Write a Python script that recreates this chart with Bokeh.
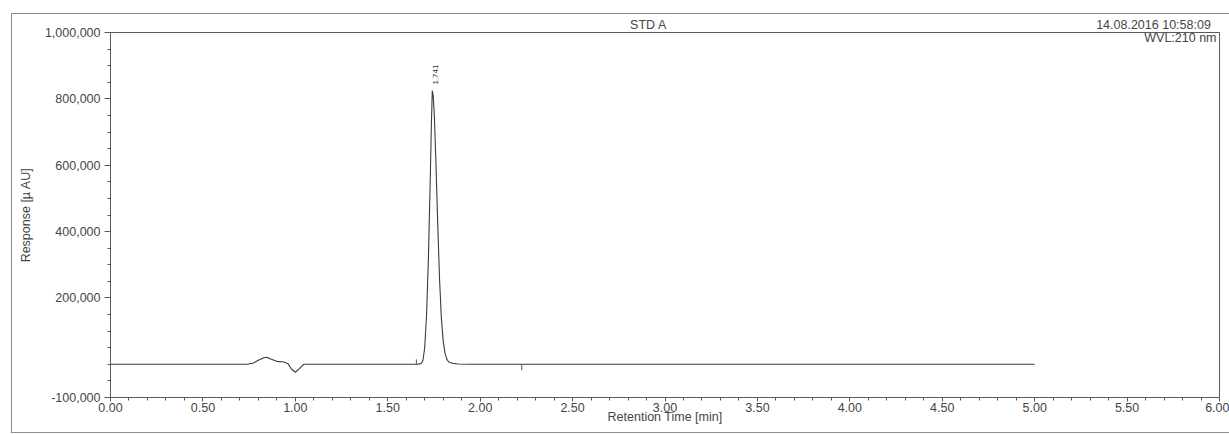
import numpy as np
from bokeh.plotting import figure
from bokeh.models import (Range1d, FixedTicker, NumeralTickFormatter, Label,
                          LinearAxis, ColumnDataSource)
from bokeh.core.properties import value
from bokeh.embed import file_html
from bokeh.resources import INLINE

# ---- data ----
time_min = [0.00, 0.50, 0.74, 0.77, 0.80, 0.83, 0.845, 0.87, 0.90, 0.94, 0.96,
            0.98, 1.00, 1.02, 1.045, 1.10, 1.50, 1.66, 1.68, 1.69, 1.70, 1.71,
            1.72, 1.73, 1.736, 1.741, 1.746, 1.752, 1.76, 1.77, 1.78, 1.79,
            1.80, 1.81, 1.82, 1.83, 1.85, 1.88, 1.95, 3.00, 4.00, 5.00]
response_uau = [0, 0, 0, 3000, 12000, 20000, 21000, 15000, 9000, 7000, 2000,
                -15000, -24000, -14000, 0, 0, 0, 0, 2000, 10000, 50000, 150000,
                320000, 560000, 720000, 825000, 810000, 750000, 620000, 430000,
                260000, 140000, 70000, 33000, 15000, 7000, 3000, 1000, 0, 0, 0, 0]

peak_rt = [1.741]
peak_height = [825000]
peak_label = ["1.741"]

integration_mark_t = [1.655, 2.225]
integration_mark_end = [15000, -18000]

x_ticks = [0.0, 0.5, 1.0, 1.5, 2.0, 2.5, 3.0, 3.5, 4.0, 4.5, 5.0, 5.5, 6.0]
x_minor = [round(i * 0.1, 2) for i in range(0, 61)]
y_ticks = [-100000, 200000, 400000, 600000, 800000, 1000000]
y_minor = [v for v in range(-100000, 1000001, 50000)]

title_text = "STD A"
date_text = "14.08.2016 10:58:09"
wvl_text = "WVL:210 nm"
x_label = "Retention Time [min]"
y_label = "Response [µ AU]"

FONT = "Liberation Sans"
FS = "12.5px"
TXT = "#454545"
AX = "#5a5a5a"

p = figure(width=1217, height=418, output_backend="svg", toolbar_location=None,
           x_range=Range1d(0, 6), y_range=Range1d(-100000, 1000000),
           min_border_left=98, min_border_right=10, min_border_top=17,
           min_border_bottom=35)
p.margin = (14, 0, 0, 12)
p.styles = {"outline": "1px solid #8c8c8c"}
p.background_fill_color = "white"
p.border_fill_color = "white"
p.outline_line_color = AX
p.outline_line_width = 1
p.xgrid.visible = False
p.ygrid.visible = False

# axes
xa = p.xaxis[0]
xa.ticker = FixedTicker(ticks=x_ticks, minor_ticks=x_minor)
xa.formatter = NumeralTickFormatter(format="0.00")
xa.axis_label = x_label
xa.axis_label_standoff = -5
xa.axis_label_text_font = FONT
xa.axis_label_text_font_style = "normal"
xa.axis_label_text_font_size = FS
xa.axis_label_text_color = TXT
xa.major_label_text_font = FONT
xa.major_label_text_font_size = FS
xa.major_label_text_color = TXT
xa.major_label_standoff = 1
xa.major_tick_out = 4
xa.major_tick_in = 0
xa.minor_tick_out = 3
xa.minor_tick_in = 0
xa.axis_line_color = AX
xa.major_tick_line_color = AX
xa.minor_tick_line_color = AX

ya = p.yaxis[0]
ya.ticker = FixedTicker(ticks=y_ticks, minor_ticks=y_minor)
ya.formatter = NumeralTickFormatter(format="0,0")
ya.axis_label = y_label
ya.axis_label_standoff = 9
ya.axis_label_text_font = FONT
ya.axis_label_text_font_style = "normal"
ya.axis_label_text_font_size = FS
ya.axis_label_text_color = TXT
ya.major_label_text_font = FONT
ya.major_label_text_font_size = FS
ya.major_label_text_color = TXT
ya.major_label_standoff = 4
ya.major_tick_out = 6
ya.major_tick_in = 0
ya.minor_tick_out = 3
ya.minor_tick_in = 0
ya.axis_line_color = AX
ya.major_tick_line_color = AX
ya.minor_tick_line_color = AX

# header line above the frame, positioned in frame pixels
p.extra_x_ranges = {"hdr": Range1d(0, 1109)}
hdr = LinearAxis(x_range_name="hdr",
                 ticker=FixedTicker(ticks=[538, 1043], minor_ticks=[]),
                 major_label_overrides={538: title_text, 1043: date_text},
                 axis_line_color=None, major_tick_line_color=None,
                 minor_tick_line_color=None, major_tick_out=0, major_tick_in=0,
                 major_label_standoff=1, major_label_text_font=FONT,
                 major_label_text_font_size=FS, major_label_text_color=TXT)
p.add_layout(hdr, "above")

# trace
src = ColumnDataSource(dict(t=time_min, r=response_uau))
p.line("t", "r", source=src, line_color="#3a3a3a", line_width=1.1)

# integration marks
p.segment(x0=integration_mark_t, y0=[0] * len(integration_mark_t),
          x1=integration_mark_t, y1=integration_mark_end,
          line_color="#555555", line_width=1)

# peak label
p.text(x=peak_rt, y=peak_height, text=peak_label, angle=np.pi / 2,
       x_offset=3, y_offset=-6, text_align="left", text_baseline="middle",
       text_font=value(FONT), text_font_size="8px", text_color="#333333")

# wavelength note inside the frame
p.add_layout(Label(x=1106, y=360, x_units="screen", y_units="screen", text=wvl_text,
                   text_align="right", text_baseline="middle",
                   text_font=FONT, text_font_size=FS, text_color=TXT))

open("out.html", "w").write(file_html(p, INLINE))
